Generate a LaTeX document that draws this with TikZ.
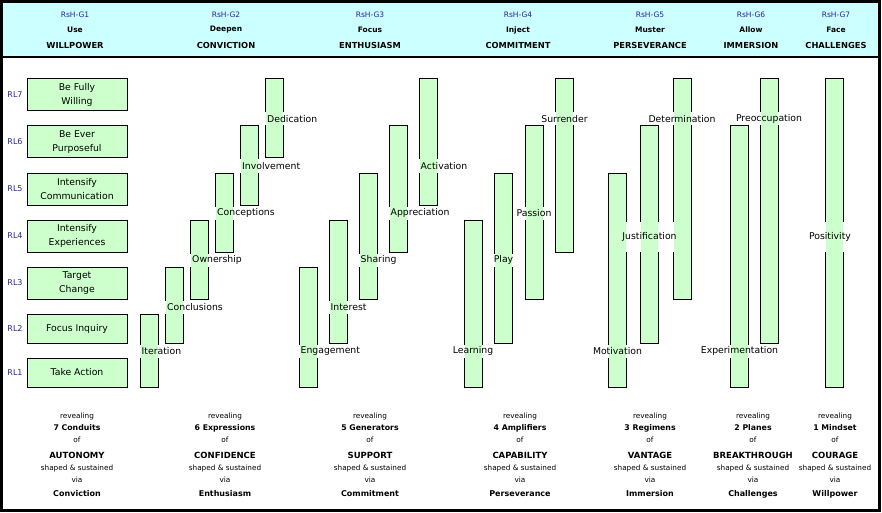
\documentclass[tikz,border=0pt]{standalone}
\usepackage{fontspec}
\setmainfont{DejaVu Sans}
\usetikzlibrary{calc}
\definecolor{hdr}{HTML}{CCFFFF}
\definecolor{grn}{HTML}{CCFFCC}
\definecolor{blu}{HTML}{2323A8}
\pgfdeclarelayer{lblbg}\pgfdeclarelayer{barfill}\pgfdeclarelayer{top}
\pgfsetlayers{main,lblbg,barfill,top}
\newcommand\myfs[2]{\fontsize{#1}{#2}\selectfont}
\tikzset{
  lvl/.style={draw, fill=grn, line width=1pt, minimum width=100pt, inner sep=0pt, align=center, font=\myfs{9.3}{14.5}},
  barb/.style={draw, line width=1pt, outer sep=0pt, minimum width=18pt, inner sep=0pt},
  lblbox/.style={fill=white, inner xsep=2.5pt, inner ysep=0pt, font=\myfs{9.3}{11}},
  lbltxt/.style={inner xsep=2.5pt, inner ysep=0pt, font=\myfs{9.3}{11}},
  rl/.style={text=blu, inner sep=0pt, font=\myfs{8}{9}},
  hcode/.style={text=blu, inner sep=0pt, font=\myfs{7.5}{9}},
  hverb/.style={inner sep=0pt, font=\bfseries\myfs{7.5}{9}},
  hbig/.style={inner sep=0pt, font=\bfseries\myfs{8.3}{10}},
  bsmall/.style={inner sep=0pt, font=\myfs{7.3}{9}},
  bnum/.style={inner sep=0pt, font=\bfseries\myfs{7.8}{9}},
  bbig/.style={inner sep=0pt, font=\bfseries\myfs{8.5}{10}},
  bvia/.style={inner sep=0pt, font=\bfseries\myfs{8}{10}},
}
% name, left x, top y, bottom y
\newcommand\mkbar[4]{%
  \node[barb, minimum height={(#4-#3)*1pt}] (#1) at ({#2+9},{(#3+#4)/2}) {};
  \begin{pgfonlayer}{barfill}
    \fill[grn] ([shift={(0.5,0.5)}]#1.north west) rectangle ([shift={(-0.5,-0.5)}]#1.south east);
  \end{pgfonlayer}}
% name, anchor, position, text, height
\newcommand\mklbl[5]{%
  \begin{pgfonlayer}{lblbg}
    \node[lblbox, anchor=#2, minimum height=#5] (#1) at (#3) {\phantom{#4}};
  \end{pgfonlayer}
  \begin{pgfonlayer}{top}
    \node[lbltxt] (#1t) at (#1.center) {#4};
  \end{pgfonlayer}}
% name, x, code, verb, big
\newcommand\mkhead[5]{%
  \node[hcode] (#1a) at (#2,15) {#3};
  \node[hverb] (#1b) at (#2,30) {#4};
  \node[hbig] (#1c) at (#2,45) {#5};}
% name, x, number, big, via
\newcommand\mkfoot[5]{%
  \node[bsmall] (#1a) at (#2,416) {revealing};
  \node[bnum] (#1b) at (#2,428) {#3};
  \node[bsmall] (#1c) at (#2,440) {of};
  \node[bbig] (#1d) at (#2,455) {#4};
  \node[bsmall] (#1e) at (#2,468) {shaped \& sustained};
  \node[bsmall] (#1f) at (#2,480) {via};
  \node[bvia] (#1g) at (#2,494) {#5};}
\begin{document}
\begin{tikzpicture}[x=1pt,y=-1pt]
\useasboundingbox (0,0) rectangle (882,513);
% frame and header band
\fill[hdr] (1.5,1.5) rectangle (879.5,57);
\draw[line width=1.5pt] (1.5,57) -- (879.5,57);
\draw[line width=3pt] (1.5,1.5) rectangle (879.5,510.5);
% header
\mkhead{h1}{75}{RsH-G1}{Use}{WILLPOWER}
\mkhead{h2}{226}{RsH-G2}{Deepen}{CONVICTION}
\mkhead{h3}{370}{RsH-G3}{Focus}{ENTHUSIASM}
\mkhead{h4}{518}{RsH-G4}{Inject}{COMMITMENT}
\mkhead{h5}{650}{RsH-G5}{Muster}{PERSEVERANCE}
\mkhead{h6}{751}{RsH-G6}{Allow}{IMMERSION}
\mkhead{h7}{836}{RsH-G7}{Face}{CHALLENGES}
% levels
\node[lvl, minimum height=32pt] (lv7) at (77,95) {Be Fully\\Willing};
\node[lvl, minimum height=32pt] (lv6) at (77,142) {Be Ever\\Purposeful};
\node[lvl, minimum height=32pt] (lv5) at (77,189) {Intensify\\Communication};
\node[lvl, minimum height=32pt] (lv4) at (77,236) {Intensify\\Experiences};
\node[lvl, minimum height=32pt] (lv3) at (77,283) {Target\\Change};
\node[lvl, minimum height=29pt] (lv2) at (77,328.5) {Focus Inquiry};
\node[lvl, minimum height=29pt] (lv1) at (77,372.5) {Take Action};
\node[rl] (r7) at (15,95) {RL7};
\node[rl] (r6) at (15,142) {RL6};
\node[rl] (r5) at (15,189) {RL5};
\node[rl] (r4) at (15,236) {RL4};
\node[rl] (r3) at (15,283) {RL3};
\node[rl] (r2) at (15,328.5) {RL2};
\node[rl] (r1) at (15,372.5) {RL1};
% G2 bars
\mkbar{b21}{140}{314}{387}
\mkbar{b22}{165.5}{267}{343}
\mkbar{b23}{190.5}{220}{299}
\mkbar{b24}{215.5}{173}{252}
\mkbar{b25}{240.5}{126}{205}
\mkbar{b26}{265.5}{79}{158}
\mklbl{l21}{west}{139,351}{Iteration}{13pt}
\mklbl{l22}{west}{164.5,307}{Conclusions}{13pt}
\mklbl{l23}{west}{189.5,260}{Ownership}{13pt}
\mklbl{l24}{west}{214.5,213}{Conceptions}{13pt}
\mklbl{l25}{west}{239.5,166}{Involvement}{13pt}
\mklbl{l26}{west}{264.5,119}{Dedication}{13pt}
% G3 bars
\mkbar{b31}{299}{267}{387}
\mkbar{b32}{329}{220}{343}
\mkbar{b33}{359}{173}{299}
\mkbar{b34}{389}{126}{252}
\mkbar{b35}{419}{79}{205}
\mklbl{l31}{west}{298,351}{Engagement}{13pt}
\mklbl{l32}{west}{328,307}{Interest}{13pt}
\mklbl{l33}{west}{358,260}{Sharing}{13pt}
\mklbl{l34}{west}{388,213}{Appreciation}{13pt}
\mklbl{l35}{west}{418,166}{Activation}{13pt}
% G4 bars
\mkbar{b41}{464}{220}{387}
\mkbar{b42}{494.5}{173}{343}
\mkbar{b43}{525}{126}{299}
\mkbar{b44}{555.5}{79}{252}
\mklbl{l41}{center}{473,351}{Learning}{13pt}
\mklbl{l42}{center}{503.5,260}{Play}{13pt}
\mklbl{l43}{center}{534,213}{Passion}{13pt}
\mklbl{l44}{center}{564.5,119}{Surrender}{13pt}
% G5 bars
\mkbar{b51}{608.5}{173}{387}
\mkbar{b52}{640.5}{126}{343}
\mkbar{b53}{673}{79}{299}
\mklbl{l51}{center}{617.5,351}{Motivation}{13pt}
\mklbl{l52}{center}{649.5,237}{Justification}{30pt}
\mklbl{l53}{center}{682,119}{Determination}{13pt}
% G6 bars
\mkbar{b61}{730.5}{126}{387}
\mkbar{b62}{760}{79}{343}
\mklbl{l61}{center}{739.5,351}{Experimentation}{13pt}
\mklbl{l62}{center}{769,119}{Preoccupation}{13pt}
% G7 bar
\mkbar{b71}{825.5}{79}{387}
\mklbl{l71}{center}{830,237}{Positivity}{30pt}
% footer
\mkfoot{f1}{77}{7 Conduits}{AUTONOMY}{Conviction}
\mkfoot{f2}{225}{6 Expressions}{CONFIDENCE}{Enthusiasm}
\mkfoot{f3}{370}{5 Generators}{SUPPORT}{Commitment}
\mkfoot{f4}{520}{4 Amplifiers}{CAPABILITY}{Perseverance}
\mkfoot{f5}{650}{3 Regimens}{VANTAGE}{Immersion}
\mkfoot{f6}{753}{2 Planes}{BREAKTHROUGH}{Challenges}
\mkfoot{f7}{835}{1 Mindset}{COURAGE}{Willpower}
\end{tikzpicture}
\end{document}
